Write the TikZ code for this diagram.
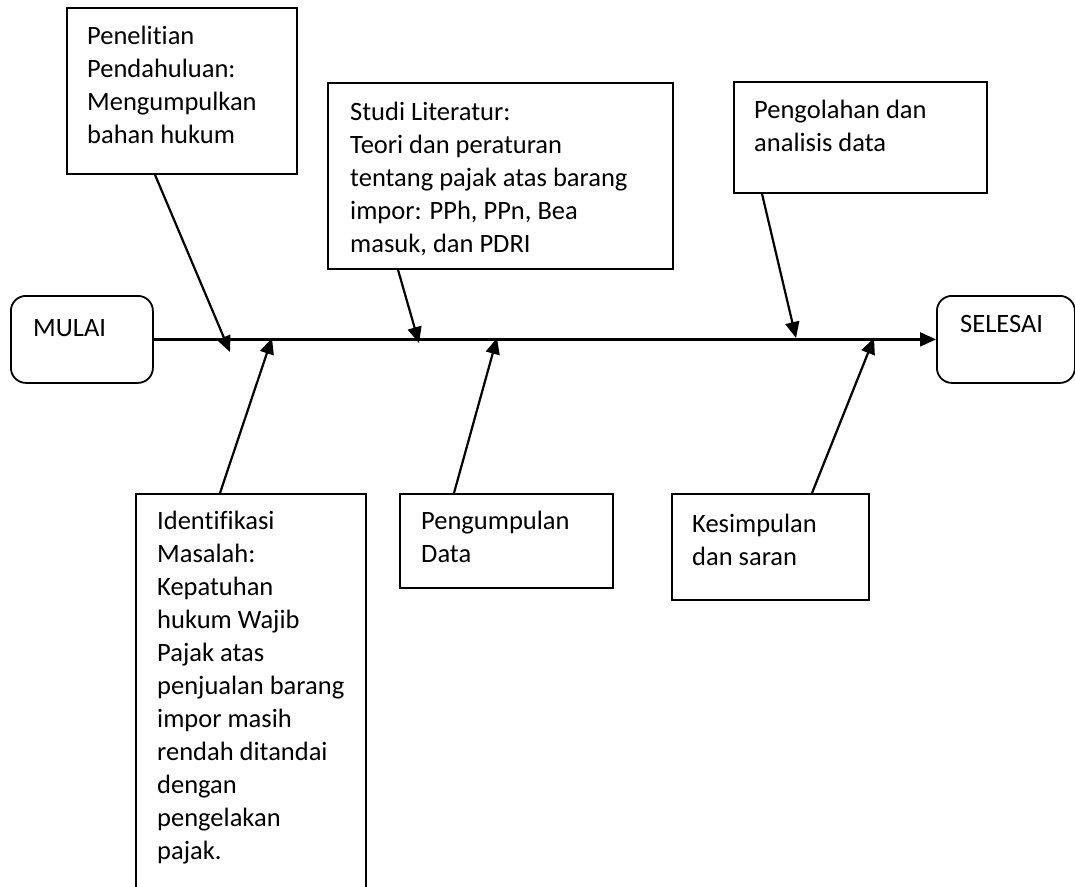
\documentclass[tikz,border=0pt]{standalone}
\usepackage{fontspec}
\setmainfont{Carlito}[Ligatures=NoCommon]
\usetikzlibrary{positioning,calc,arrows.meta}

\tikzset{
  box/.style={draw, line width=1.8pt, anchor=north west, inner sep=0pt},
  endbox/.style={box, rounded corners=15pt},
  txt/.style={anchor=north west, align=left, inner sep=0pt, font=\fontsize{26.5}{33}\selectfont},
  bone/.style={line width=2.2pt, -{Triangle[length=16pt,width=14pt]}}
}

\begin{document}
\begin{tikzpicture}[x=1pt,y=-1pt]
    \useasboundingbox (0,0) rectangle (1075,886);

    % Start and end
    \node[endbox, minimum width=142pt, minimum height=87pt] (mulai) at (10,295) {};
    \node[txt] at ($(mulai.north west)+(23,24)$) {MULAI};
    \node[endbox, minimum width=138pt, minimum height=87pt] (selesai) at (936,295) {};
    \node[txt] at ($(selesai.north west)+(24,20)$) {SELESAI};

    % Spine
    \draw[bone] (mulai.east) -- (selesai.west);

    % Upper boxes
    \node[box, minimum width=230pt, minimum height=166pt] (pen) at (66,7) {};
    \node[txt] at ($(pen.north west)+(21,19)$) {Penelitian\\Pendahuluan:\\Mengumpulkan\\bahan hukum};

    \node[box, minimum width=345pt, minimum height=186pt] (studi) at (327,82) {};
    \node[txt] at ($(studi.north west)+(23,20)$) {Studi Literatur:\\Teori dan peraturan\\tentang pajak atas barang\\impor: PPh, PPn, Bea\\masuk, dan PDRI};

    \node[box, minimum width=253pt, minimum height=111pt] (olah) at (733,81) {};
    \node[txt] at ($(olah.north west)+(21,19)$) {Pengolahan dan\\analisis data};

    % Lower boxes
    \node[box, minimum width=230pt, minimum height=420pt] (ident) at (135,493) {};
    \node[txt] at ($(ident.north west)+(22,18)$) {Identifikasi\\Masalah:\\Kepatuhan\\hukum Wajib\\Pajak atas\\penjualan barang\\impor masih\\rendah ditandai\\dengan\\pengelakan\\pajak.};

    \node[box, minimum width=213pt, minimum height=94pt] (kump) at (399,493) {};
    \node[txt] at ($(kump.north west)+(22,18)$) {Pengumpulan\\Data};

    \node[box, minimum width=197pt, minimum height=106pt] (simp) at (671,493) {};
    \node[txt] at ($(simp.north west)+(21,21)$) {Kesimpulan\\dan saran};

    % Bones
    \coordinate (t-pen) at (230,352);
    \coordinate (t-studi) at (419,343);
    \coordinate (t-olah) at (796,338);
    \coordinate (t-ident) at (272,338);
    \coordinate (t-kump) at (497,338);
    \coordinate (t-simp) at (874,338);

    \draw[bone] ($(pen.south west)+(89,0)$) -- (t-pen);
    \draw[bone] ($(studi.south west)+(71,0)$) -- (t-studi);
    \draw[bone] ($(olah.south west)+(29,0)$) -- (t-olah);
    \draw[bone] ($(ident.north west)+(85,0)$) -- (t-ident);
    \draw[bone] ($(kump.north west)+(55,0)$) -- (t-kump);
    \draw[bone] ($(simp.north west)+(141,0)$) -- (t-simp);
\end{tikzpicture}
\end{document}
